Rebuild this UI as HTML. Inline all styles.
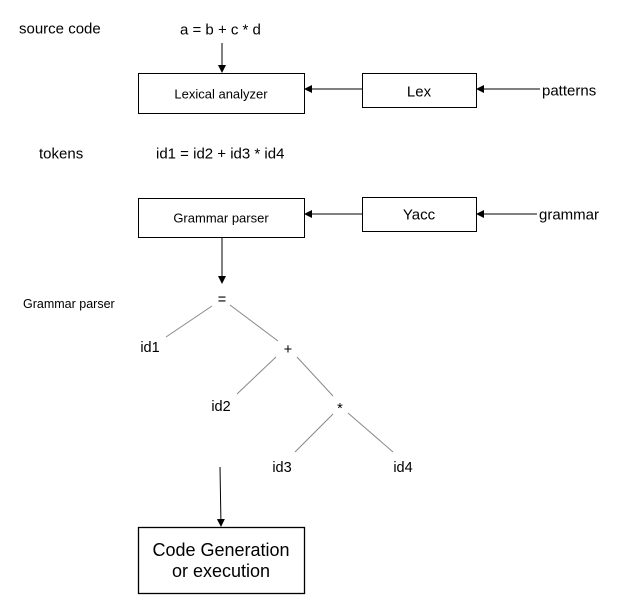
<!DOCTYPE html>
<html><head><style>
html,body{margin:0;padding:0;background:#fff;}
svg text{font-family:"Liberation Sans",Arial,sans-serif;fill:#000;}
</style></head><body>
<svg width="629" height="610" xmlns="http://www.w3.org/2000/svg">
<defs><marker id="a" markerWidth="8" markerHeight="8" refX="7" refY="4" orient="auto" markerUnits="userSpaceOnUse"><path d="M0,0 L8,4 L0,8 z" fill="#000"/></marker></defs>
<g font-size="15" dominant-baseline="central">
<text x="19" y="29">source code</text>
<text x="180" y="30">a = b + c * d</text>
<text x="39" y="154">tokens</text>
<text x="156" y="154">id1 = id2 + id3 * id4</text>
<text x="542" y="91">patterns</text>
<text x="539" y="215">grammar</text>
</g>
<line x1="222" y1="43" x2="222" y2="72" stroke="#000" marker-end="url(#a)"/>
<rect x="138.5" y="73.5" width="166" height="40" fill="none" stroke="#000"/>
<text x="221" y="94" font-size="13" text-anchor="middle" dominant-baseline="central">Lexical analyzer</text>
<rect x="362.5" y="73.5" width="114" height="34" fill="none" stroke="#000"/>
<text x="419" y="92" font-size="15" text-anchor="middle" dominant-baseline="central">Lex</text>
<line x1="362" y1="89" x2="305" y2="89" stroke="#000" marker-end="url(#a)"/>
<line x1="540" y1="89" x2="477" y2="89" stroke="#000" marker-end="url(#a)"/>
<rect x="138.5" y="198.5" width="166" height="39" fill="none" stroke="#000"/>
<text x="221" y="218" font-size="13" text-anchor="middle" dominant-baseline="central">Grammar parser</text>
<rect x="362.5" y="197.5" width="114" height="34" fill="none" stroke="#000"/>
<text x="419" y="215" font-size="15" text-anchor="middle" dominant-baseline="central">Yacc</text>
<line x1="362" y1="214" x2="305" y2="214" stroke="#000" marker-end="url(#a)"/>
<line x1="537" y1="214" x2="477" y2="214" stroke="#000" marker-end="url(#a)"/>
<line x1="222" y1="238" x2="222" y2="283" stroke="#000" marker-end="url(#a)"/>
<text x="23" y="304" font-size="12.5" dominant-baseline="central">Grammar parser</text>
<g font-size="14.5" text-anchor="middle" dominant-baseline="central">
<text x="222" y="300">=</text>
<text x="150" y="348">id1</text>
<text x="288" y="350">+</text>
<text x="221" y="407">id2</text>
<text x="340" y="409">*</text>
<text x="282" y="468">id3</text>
<text x="403" y="468">id4</text>
</g>
<g stroke="#888" stroke-width="1">
<line x1="212" y1="306" x2="166" y2="337"/>
<line x1="230" y1="305" x2="278" y2="341"/>
<line x1="276" y1="357" x2="237" y2="394"/>
<line x1="297" y1="357" x2="333" y2="396"/>
<line x1="333" y1="414" x2="295" y2="452"/>
<line x1="348" y1="413" x2="393" y2="452"/>
</g>
<line x1="220" y1="467" x2="221" y2="526" stroke="#000" marker-end="url(#a)"/>
<rect x="138.5" y="527.5" width="166" height="66" fill="none" stroke="#000" stroke-width="1.3"/>
<text x="221" y="550" font-size="18" text-anchor="middle" dominant-baseline="central">Code Generation</text>
<text x="221" y="571" font-size="18" text-anchor="middle" dominant-baseline="central">or execution</text>
</svg>
</body></html>
